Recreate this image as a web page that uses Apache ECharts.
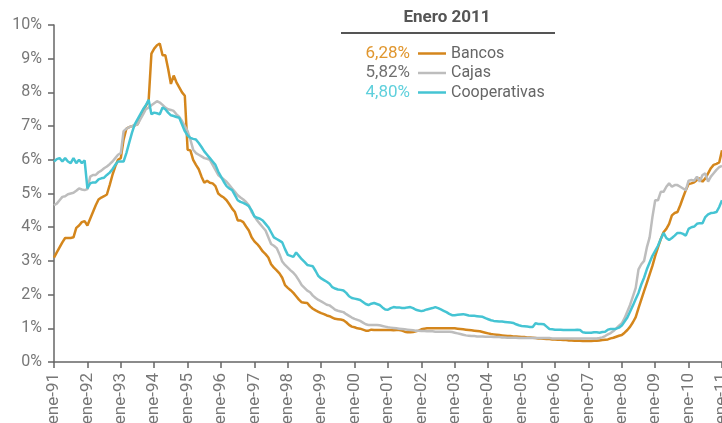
<!DOCTYPE html>
<html>
<head>
<meta charset="utf-8">
<title>Tipos de interés</title>
<script src="https://cdn.jsdelivr.net/npm/echarts@6/dist/echarts.min.js"></script>
<style>
  html, body { margin: 0; padding: 0; background: #fff; }
  #chart { width: 722px; height: 423px; }
</style>
</head>
<body>
<div id="chart"></div>
<script>
// meses y años del eje X (ene-91 ... ene-11)
var mesNames = ['ene', 'feb', 'mar', 'abr', 'may', 'jun', 'jul', 'ago', 'sep', 'oct', 'nov', 'dic'];
var years = ['91','92','93','94','95','96','97','98','99','00','01','02','03','04','05','06','07','08','09','10','11'];

var seriesNames = ['Bancos', 'Cajas', 'Cooperativas'];
var legendValues = ['6,28%', '5,82%', '4,80%'];
var legendTitle = 'Enero 2011';

// % mensual
var bancos = [
  3.10, 3.25, 3.40, 3.55, 3.68, 3.68, 3.68, 3.70, 3.98, 4.05, 4.15, 4.18,
  4.05, 4.25, 4.45, 4.65, 4.82, 4.88, 4.92, 4.97, 5.25, 5.55, 5.80, 6.00,
  6.05, 6.60, 6.92, 6.97, 7.00, 7.02, 7.05, 7.25, 7.45, 7.60, 7.75, 9.15,
  9.30, 9.40, 9.45, 9.10, 9.10, 8.70, 8.25, 8.50, 8.30, 8.15, 8.00, 7.90,
  6.30, 6.28, 6.00, 5.85, 5.72, 5.50, 5.32, 5.38, 5.32, 5.30, 5.22, 5.00,
  4.93, 4.88, 4.80, 4.68, 4.55, 4.45, 4.20, 4.20, 4.15, 4.02, 3.90, 3.70,
  3.58, 3.50, 3.40, 3.28, 3.20, 3.10, 2.90, 2.80, 2.72, 2.63, 2.50, 2.28,
  2.20, 2.13, 2.05, 1.95, 1.85, 1.77, 1.76, 1.75, 1.65, 1.58, 1.53, 1.49,
  1.45, 1.42, 1.38, 1.36, 1.32, 1.28, 1.27, 1.26, 1.24, 1.18, 1.10, 1.05,
  1.03, 1.00, 0.99, 0.96, 0.93, 0.93, 0.96, 0.95, 0.95, 0.95, 0.95, 0.95,
  0.95, 0.95, 0.94, 0.95, 0.95, 0.93, 0.90, 0.88, 0.88, 0.89, 0.91, 0.93,
  0.97, 0.99, 1.00, 1.00, 1.00, 1.00, 1.00, 1.00, 1.00, 1.00, 1.00, 1.00,
  1.00, 0.99, 0.98, 0.97, 0.96, 0.95, 0.94, 0.93, 0.92, 0.91, 0.89, 0.87,
  0.85, 0.83, 0.82, 0.81, 0.80, 0.79, 0.78, 0.77, 0.77, 0.76, 0.76, 0.75,
  0.74, 0.74, 0.73, 0.73, 0.72, 0.71, 0.70, 0.70, 0.69, 0.68, 0.68, 0.67,
  0.67, 0.66, 0.66, 0.65, 0.65, 0.64, 0.64, 0.63, 0.63, 0.63, 0.62, 0.62,
  0.62, 0.62, 0.63, 0.63, 0.64, 0.65, 0.66, 0.67, 0.70, 0.72, 0.75, 0.78,
  0.80, 0.87, 0.95, 1.05, 1.18, 1.33, 1.60, 1.85, 2.10, 2.35, 2.60, 2.85,
  3.15, 3.40, 3.65, 3.85, 3.95, 4.10, 4.35, 4.42, 4.45, 4.65, 4.88, 5.10,
  5.28, 5.30, 5.33, 5.40, 5.45, 5.35, 5.45, 5.60, 5.75, 5.85, 5.88, 5.92,
  6.28
];

var cajas = [
  4.65, 4.70, 4.80, 4.90, 4.92, 4.98, 5.00, 5.02, 5.08, 5.15, 5.12, 5.10,
  5.13, 5.50, 5.55, 5.55, 5.63, 5.68, 5.75, 5.80, 5.87, 5.95, 6.05, 6.15,
  6.20, 6.85, 6.92, 6.97, 7.00, 7.02, 7.05, 7.20, 7.35, 7.50, 7.55, 7.62,
  7.68, 7.74, 7.70, 7.63, 7.55, 7.50, 7.48, 7.45, 7.35, 7.27, 7.15, 7.00,
  6.85, 6.60, 6.30, 6.20, 6.15, 6.10, 6.05, 6.03, 6.00, 5.85, 5.70, 5.55,
  5.48, 5.42, 5.35, 5.25, 5.15, 5.05, 4.95, 4.88, 4.82, 4.75, 4.65, 4.45,
  4.32, 4.20, 4.10, 4.00, 3.90, 3.70, 3.50, 3.45, 3.38, 3.20, 2.98, 2.88,
  2.80, 2.72, 2.65, 2.55, 2.42, 2.28, 2.20, 2.12, 2.07, 1.97, 1.90, 1.84,
  1.80, 1.75, 1.70, 1.68, 1.62, 1.55, 1.52, 1.50, 1.48, 1.42, 1.37, 1.32,
  1.28, 1.25, 1.22, 1.17, 1.12, 1.10, 1.10, 1.10, 1.10, 1.09, 1.07, 1.05,
  1.03, 1.02, 1.01, 1.00, 0.99, 0.98, 0.97, 0.96, 0.95, 0.94, 0.93, 0.93,
  0.92, 0.92, 0.91, 0.91, 0.91, 0.90, 0.90, 0.90, 0.90, 0.90, 0.90, 0.89,
  0.87, 0.85, 0.83, 0.81, 0.79, 0.78, 0.77, 0.77, 0.76, 0.76, 0.76, 0.75,
  0.75, 0.75, 0.74, 0.74, 0.74, 0.73, 0.73, 0.72, 0.72, 0.72, 0.72, 0.71,
  0.71, 0.71, 0.71, 0.71, 0.71, 0.71, 0.71, 0.71, 0.71, 0.71, 0.71, 0.70,
  0.70, 0.70, 0.70, 0.70, 0.70, 0.70, 0.70, 0.70, 0.70, 0.70, 0.70, 0.70,
  0.70, 0.70, 0.70, 0.70, 0.71, 0.73, 0.77, 0.82, 0.86, 0.92, 1.00, 1.08,
  1.15, 1.30, 1.50, 1.70, 1.95, 2.20, 2.75, 2.90, 3.00, 3.40, 3.70, 4.30,
  4.80, 4.80, 5.05, 5.05, 5.20, 5.30, 5.20, 5.25, 5.25, 5.20, 5.15, 5.10,
  5.38, 5.40, 5.38, 5.50, 5.35, 5.55, 5.60, 5.35, 5.50, 5.60, 5.70, 5.78,
  5.82
];

var cooperativas = [
  5.95, 6.02, 6.05, 5.95, 6.05, 5.95, 5.90, 6.05, 5.90, 6.00, 5.90, 5.98,
  5.15, 5.30, 5.33, 5.33, 5.42, 5.45, 5.47, 5.55, 5.62, 5.72, 5.85, 5.95,
  5.95, 5.95, 6.20, 6.50, 6.80, 7.05, 7.20, 7.35, 7.50, 7.62, 7.78, 7.35,
  7.40, 7.38, 7.35, 7.55, 7.50, 7.40, 7.32, 7.30, 7.27, 7.25, 7.05, 6.85,
  6.72, 6.65, 6.62, 6.60, 6.50, 6.38, 6.25, 6.15, 6.05, 5.95, 5.85, 5.65,
  5.50, 5.35, 5.22, 5.15, 5.10, 4.95, 4.80, 4.75, 4.72, 4.68, 4.62, 4.50,
  4.32, 4.28, 4.25, 4.20, 4.10, 4.00, 3.85, 3.70, 3.65, 3.60, 3.55, 3.35,
  3.18, 3.15, 3.12, 3.25, 3.15, 3.05, 2.97, 2.88, 2.86, 2.84, 2.70, 2.55,
  2.48, 2.43, 2.38, 2.32, 2.22, 2.18, 2.15, 2.14, 2.12, 2.05, 1.95, 1.90,
  1.88, 1.86, 1.84, 1.78, 1.72, 1.69, 1.73, 1.75, 1.72, 1.69, 1.62, 1.56,
  1.55, 1.60, 1.63, 1.62, 1.62, 1.60, 1.60, 1.62, 1.63, 1.60, 1.55, 1.53,
  1.51, 1.53, 1.56, 1.58, 1.60, 1.63, 1.60, 1.56, 1.52, 1.48, 1.43, 1.39,
  1.39, 1.40, 1.41, 1.42, 1.40, 1.38, 1.37, 1.37, 1.36, 1.35, 1.34, 1.30,
  1.27, 1.24, 1.22, 1.21, 1.20, 1.20, 1.19, 1.18, 1.17, 1.16, 1.12, 1.09,
  1.07, 1.06, 1.05, 1.04, 1.04, 1.15, 1.13, 1.13, 1.12, 1.05, 0.98, 0.97,
  0.96, 0.96, 0.96, 0.95, 0.95, 0.95, 0.95, 0.95, 0.96, 0.95, 0.88, 0.87,
  0.87, 0.87, 0.88, 0.88, 0.87, 0.89, 0.90, 0.96, 0.98, 0.98, 0.99, 1.02,
  1.08, 1.20, 1.32, 1.50, 1.68, 1.87, 2.05, 2.30, 2.50, 2.75, 2.95, 3.15,
  3.30, 3.45, 3.65, 3.83, 3.68, 3.62, 3.68, 3.75, 3.83, 3.83, 3.80, 3.75,
  3.95, 4.00, 4.02, 4.10, 4.12, 4.12, 4.30, 4.38, 4.42, 4.43, 4.45, 4.60,
  4.80
];

var colors = ['#d4861c', '#bdbdbd', '#45c4d3'];
var valueColors = ['#e0962e', '#707070', '#5fd0dc'];
var font = 'Roboto, "Noto Sans", sans-serif';

// categorías: un punto por mes
var categorias = [];
for (var y = 0; y < years.length; y++) {
  for (var m = 0; m < 12; m++) {
    if (y === years.length - 1 && m > 0) break;
    categorias.push(mesNames[m] + '-' + years[y]);
  }
}

var chart = echarts.init(document.getElementById('chart'));

var series = [bancos, cajas, cooperativas].map(function (data, i) {
  return {
    name: seriesNames[i],
    type: 'line',
    data: data,
    showSymbol: false,
    symbol: 'none',
    lineStyle: { color: colors[i], width: 2.5 },
    itemStyle: { color: colors[i] },
    animation: false
  };
});

// título y valores de enero 2011 delante de la leyenda
var graphics = [
  {
    type: 'text', x: 447, y: 18,
    style: { text: legendTitle, fill: '#555', font: 'bold 17px ' + font, align: 'center', verticalAlign: 'middle' }
  },
  {
    type: 'line',
    shape: { x1: 341, y1: 33, x2: 555, y2: 33 },
    style: { stroke: '#555', lineWidth: 2 }
  }
];
legendValues.forEach(function (v, i) {
  graphics.push({
    type: 'text',
    x: 410, y: 53.5 + i * 19.5,
    style: { text: v, fill: valueColors[i], font: '17px ' + font, align: 'right', verticalAlign: 'middle' }
  });
});

chart.setOption({
  backgroundColor: '#fff',
  textStyle: { fontFamily: font },
  grid: { left: 54, right: 0, top: 25, bottom: 61, containLabel: false, outerBoundsMode: 'none' },
  legend: {
    orient: 'vertical',
    left: 418,
    top: 45.5,
    padding: 0,
    icon: 'rect',
    itemWidth: 28,
    itemHeight: 2.5,
    itemGap: 3.5,
    textStyle: { color: '#666', fontSize: 16, lineHeight: 16, fontFamily: font },
    data: seriesNames
  },
  graphic: graphics,
  xAxis: {
    type: 'category',
    data: categorias,
    boundaryGap: false,
    axisLine: { lineStyle: { color: '#666', width: 1.5 } },
    axisTick: { interval: 11, length: 6, lineStyle: { color: '#666', width: 1.5 } },
    axisLabel: {
      interval: 11,
      rotate: 90,
      margin: 11,
      color: '#777',
      fontSize: 17,
      fontFamily: font
    },
    splitLine: { show: false }
  },
  yAxis: {
    type: 'value',
    min: 0,
    max: 10,
    interval: 1,
    axisLine: { show: true, lineStyle: { color: '#666', width: 1.5 } },
    axisTick: { show: true, length: 6, lineStyle: { color: '#666', width: 1.5 } },
    axisLabel: { formatter: '{value}%', color: '#777', fontSize: 16, margin: 12, fontFamily: font },
    splitLine: { show: false }
  },
  series: series
});
</script>
</body>
</html>
